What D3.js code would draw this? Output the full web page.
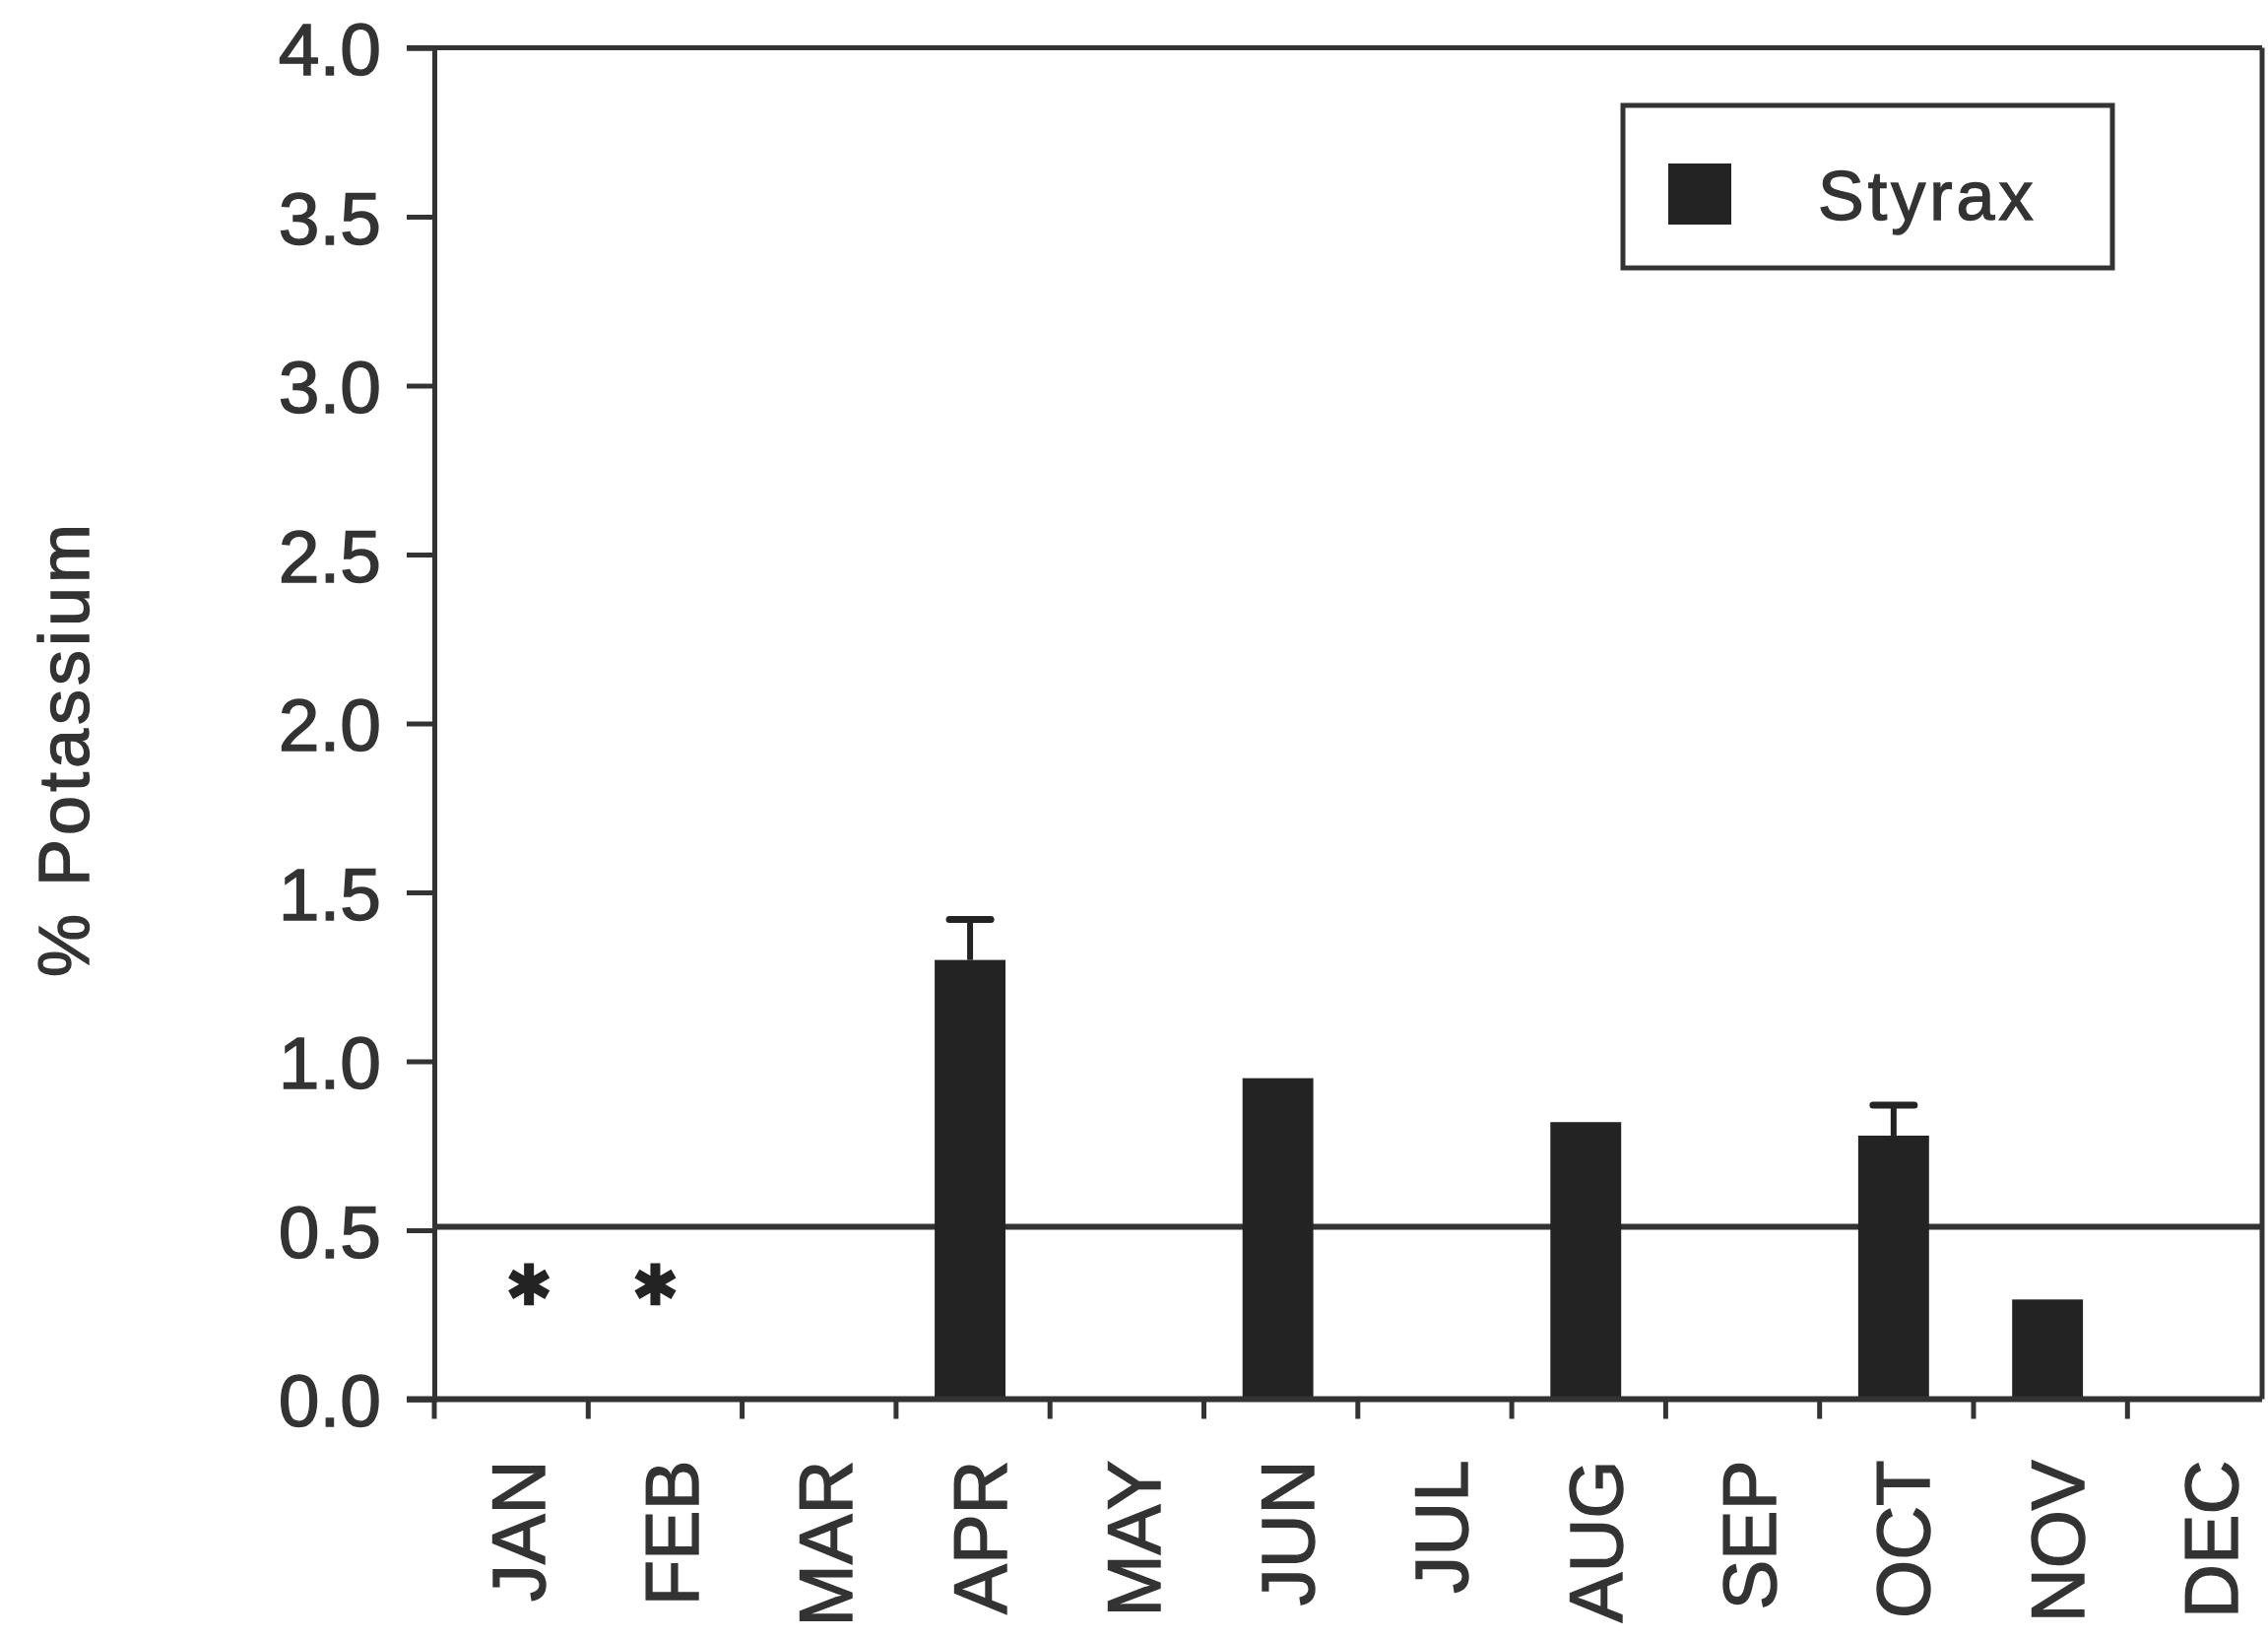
<!DOCTYPE html>
<html>
<head>
<meta charset="utf-8">
<script src="https://cdn.jsdelivr.net/npm/d3@7"></script>
<style>
  html, body { margin: 0; padding: 0; background: #fff; }
  svg { display: block; }
  text { font-family: "Liberation Sans", Arial, sans-serif; fill: #333; stroke: #333; stroke-width: 1.4px; }
</style>
</head>
<body>
<script>
// ---- data ----
const months = ["JAN","FEB","MAR","APR","MAY","JUN","JUL","AUG","SEP","OCT","NOV","DEC"];
const potassium = [null, null, null, 1.30, null, 0.95, null, 0.82, null, 0.78, 0.295, null];
const errorTop  = [null, null, null, 1.42, null, null, null, null, null, 0.87, null, null];
const asteriskValues = [0.34, 0.34, null, null, null, null, null, null, null, null, null, null];
const yTicks = [0, 0.5, 1.0, 1.5, 2.0, 2.5, 3.0, 3.5, 4.0];
const referenceLevel = [0.51];
const seriesName = "Styrax";
const yTitle = "% Potassium";

// ---- layout ----
const W = 2303, H = 1663;
const left = 441, bandW = 156.3, frameRight = 2297;
const ink = "#333", barColor = "#232323";

const svg = d3.select("body").append("svg").attr("width", W).attr("height", H);

const x = d3.scaleBand().domain(months).range([left, left + bandW * months.length]).paddingInner(0).paddingOuter(0);
const y = d3.scaleLinear().domain([0, 4]).range([1420.5, 48.5]);

// frame: top and right
svg.append("line").attr("x1", left - 28).attr("x2", frameRight).attr("y1", y(4)).attr("y2", y(4))
  .attr("stroke", ink).attr("stroke-width", 5);
svg.append("line").attr("x1", frameRight).attr("x2", frameRight).attr("y1", y(4)).attr("y2", y(0))
  .attr("stroke", ink).attr("stroke-width", 5);

// y axis
const yAxis = d3.axisLeft(y).tickValues(yTicks).tickFormat(d3.format(".1f")).tickSize(28).tickPadding(26);
const gy = svg.append("g").attr("transform", `translate(${left},0)`).call(yAxis);
gy.select(".domain").attr("stroke", ink).attr("stroke-width", 5);
gy.selectAll(".tick line").attr("stroke", ink).attr("stroke-width", 5);
gy.selectAll(".tick text").attr("font-size", 75).attr("fill", ink)
  .attr("font-family", "'Liberation Sans', Arial, sans-serif").attr("dy", "0.36em");

// reference line at 0.5
svg.selectAll(".ref").data(referenceLevel).join("line").attr("class", "ref")
  .attr("x1", left).attr("x2", frameRight).attr("y1", d => y(d)).attr("y2", d => y(d))
  .attr("stroke", ink).attr("stroke-width", 6);

// bars
const barW = x.bandwidth() * 0.46;
const barData = months.map((m, i) => ({ m, v: potassium[i], e: errorTop[i], a: asteriskValues[i] }));
svg.selectAll(".bar").data(barData.filter(d => d.v != null)).join("rect").attr("class", "bar")
  .attr("x", d => x(d.m) + x.bandwidth() / 2 - barW / 2 - 3)
  .attr("width", barW)
  .attr("y", d => y(d.v))
  .attr("height", d => y(0) - y(d.v))
  .attr("fill", barColor);

// error bars
const errs = barData.filter(d => d.e != null);
svg.selectAll(".estem").data(errs).join("line").attr("class", "estem")
  .attr("x1", d => x(d.m) + x.bandwidth() / 2 - 3).attr("x2", d => x(d.m) + x.bandwidth() / 2 - 3)
  .attr("y1", d => y(d.v)).attr("y2", d => y(d.e))
  .attr("stroke", barColor).attr("stroke-width", 6);
svg.selectAll(".ecap").data(errs).join("line").attr("class", "ecap")
  .attr("x1", d => x(d.m) + x.bandwidth() / 2 - 24).attr("x2", d => x(d.m) + x.bandwidth() / 2 + 18)
  .attr("y1", d => y(d.e)).attr("y2", d => y(d.e))
  .attr("stroke", barColor).attr("stroke-width", 7).attr("stroke-linecap", "round");

// asterisks
const astType = d3.symbolAsterisk || d3.symbolStar;
svg.selectAll(".ast").data(barData.filter(d => d.a != null)).join("path").attr("class", "ast")
  .attr("d", d3.symbol(astType, 1300))
  .attr("transform", (d, i) => `translate(${x(d.m) + x.bandwidth() / 2 + (i === 0 ? 18 : -10)},${y(d.a)})`)
  .attr("stroke", barColor).attr("stroke-width", 10).attr("fill", barColor);

// x baseline
svg.append("line").attr("x1", left - 28).attr("x2", frameRight).attr("y1", y(0)).attr("y2", y(0))
  .attr("stroke", ink).attr("stroke-width", 6);

// x ticks at band boundaries
svg.selectAll(".xtick").data(months).join("line").attr("class", "xtick")
  .attr("x1", d => x(d)).attr("x2", d => x(d))
  .attr("y1", y(0)).attr("y2", y(0) + 20)
  .attr("stroke", ink).attr("stroke-width", 5);

// month labels
svg.selectAll(".mlabel").data(months).join("text").attr("class", "mlabel")
  .attr("transform", d => `translate(${x(d) + x.bandwidth() / 2 + 7},${y(0) + 62}) rotate(-90)`)
  .attr("text-anchor", "end")
  .attr("dominant-baseline", "central")
  .attr("font-size", 76)
  .text(d => d);

// y title
svg.append("text")
  .attr("transform", `translate(90,760) rotate(-90)`)
  .attr("text-anchor", "middle")
  .attr("font-size", 72)
  .attr("letter-spacing", 4)
  .text(yTitle);

// legend
const lg = svg.append("g");
lg.append("rect").attr("x", 1648).attr("y", 107).attr("width", 497).attr("height", 165)
  .attr("fill", "#fff").attr("stroke", ink).attr("stroke-width", 5);
lg.append("rect").attr("x", 1694).attr("y", 166).attr("width", 64).attr("height", 62).attr("fill", barColor);
lg.append("text").attr("x", 1846).attr("y", 223).attr("font-size", 70).attr("letter-spacing", 4).text(seriesName);
</script>
</body>
</html>
